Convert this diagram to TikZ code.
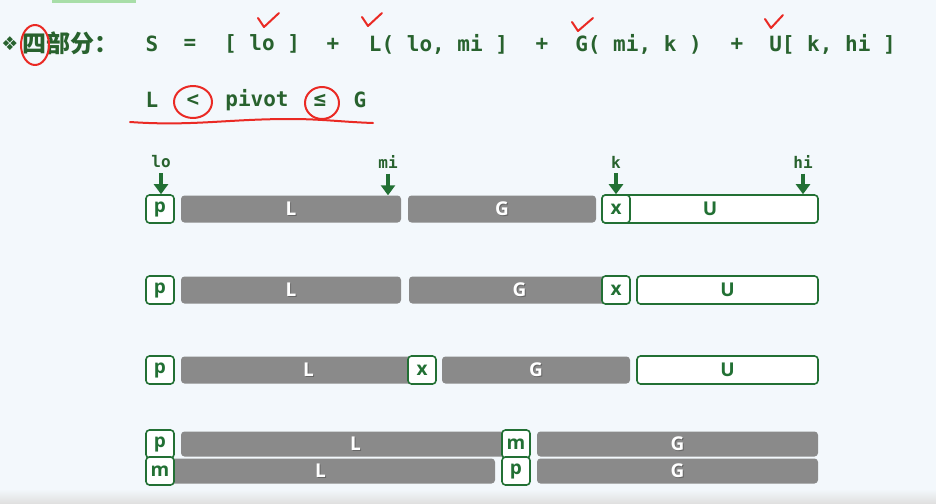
\documentclass[tikz,border=0pt]{standalone}
\usepackage{fontspec}
\setmainfont{Open Sans}
\setmonofont{DejaVu Sans Mono}
\newfontfamily\cjk{Noto Sans CJK SC}
\newfontfamily\symfont{DejaVu Sans}
\usetikzlibrary{arrows.meta}

\definecolor{bgblue}{RGB}{243,248,252}
\definecolor{txtgreen}{RGB}{40,98,46}
\definecolor{boxgreen}{RGB}{34,112,52}
\definecolor{bargray}{RGB}{138,138,138}
\definecolor{markred}{RGB}{234,42,36}
\definecolor{topgreen}{RGB}{168,222,168}

\newcommand{\shtext}[1]{\makebox[0pt][l]{\kern1pt\raisebox{-1pt}{\textcolor{black!60}{#1}}}#1}

\tikzset{
  elem/.style={rectangle, rounded corners=3.5pt, draw=boxgreen, line width=1.6pt, fill=white, text=boxgreen,
    font=\fontsize{19}{22}\selectfont\bfseries, inner sep=0pt, minimum height=28pt},
  pivbox/.style={elem, minimum width=28pt},
  gbar/.style={rectangle, rounded corners=3.5pt, fill=bargray, text=white,
    font=\fontsize{19}{22}\selectfont\bfseries, inner sep=0pt, minimum height=27pt},
  eq/.style={text=txtgreen, font=\ttfamily\bfseries\fontsize{21}{25}\selectfont, inner sep=0pt},
  ptrlbl/.style={text=txtgreen, font=\ttfamily\bfseries\fontsize{16}{18}\selectfont, inner sep=1pt},
  ptr/.style={boxgreen, line width=3.4pt, -{Triangle[width=14pt,length=10pt]}, shorten <=4pt},
  redmark/.style={markred, line width=2pt, line cap=round, line join=round}
}

\begin{document}
\begin{tikzpicture}[x=1pt, y=-1pt]
  \fill[bgblue] (0,0) rectangle (936,503);
  \useasboundingbox (0,0) rectangle (936,503);
  \fill[topgreen] (52,0) rectangle (136,3);
  \shade[top color=bgblue, bottom color=black!12] (0,489) rectangle (936,503);

  % formula line
  \node [text=txtgreen, font=\symfont\bfseries\fontsize{19}{20}\selectfont, inner sep=0pt] (bullet) at (10,44) {❖};
  \node [anchor=west, text=txtgreen, font=\cjk\bfseries\fontsize{24}{26}\selectfont, inner sep=0pt] (title) at (22,43) {四部分：};
  \node [eq] (eqS) at (152,44) {S};
  \node [eq] (eqeq) at (190,44) {=};
  \node [eq] (eqlo) at (262,44) {[ lo ]};
  \node [eq] (plus1) at (333,44) {+};
  \node [eq] (eqL) at (438.5,44) {L( lo, mi ]};
  \node [eq] (plus2) at (542,44) {+};
  \node [eq] (eqG) at (638.5,44) {G( mi, k )};
  \node [eq] (plus3) at (737,44) {+};
  \node [eq] (eqU) at (832.5,44) {U[ k, hi ]};

  \node [eq] (pvL) at (152,100) {L};
  \node [eq] (pvlt) at (193,100) {<};
  \node [eq] (pvtxt) at (257,100) {pivot};
  \node [eq] (pvle) at (320,100) {≤};
  \node [eq] (pvG) at (360,100) {G};

  % red pen marks
  \draw [redmark] (35,45) ellipse [x radius=14, y radius=20];
  \draw [redmark] (193,102) ellipse [x radius=19, y radius=16];
  \draw [redmark] (322,103) ellipse [x radius=17, y radius=16];
  \draw [redmark] (130,122) to[out=-4, in=180] (290,119) to[out=0, in=178] (373,123);
  \draw [redmark] (258,18) -- (264,27) -- (279,13);
  \draw [redmark] (362,17) -- (368,26) -- (382,13);
  \draw [redmark] (572,22) -- (578,31) -- (593,18);
  \draw [redmark] (765,19) -- (771,28) -- (783,15);

  % row 1
  \node [ptrlbl] (lo) at (161,162) {lo};
  \node [ptrlbl] (mi) at (388,162) {mi};
  \node [ptrlbl] (k) at (616,162) {k};
  \node [ptrlbl] (hi) at (803,162) {hi};

  \node [gbar, minimum width=220pt] (L1) at (291,209) {\shtext{L}};
  \node [gbar, minimum width=188pt] (G1) at (502,209) {\shtext{G}};
  \node [elem, minimum width=216pt] (U1) at (710,209) {U};
  \node [pivbox] (p1) at (160,209) {p};
  \node [pivbox] (x1) at (616,209) {x};

  \draw [ptr] (lo.south) -- (lo |- p1.north);
  \draw [ptr] (mi.south) -- (mi |- L1.north);
  \draw [ptr] (k.south) -- (k |- x1.north);
  \draw [ptr] (hi.south) -- (hi |- U1.north);

  % row 2
  \node [gbar, minimum width=220pt] (L2) at (291,290) {\shtext{L}};
  \node [gbar, minimum width=221pt] (G2) at (519.5,290) {\shtext{G}};
  \node [elem, minimum width=181pt] (U2) at (727.5,290) {U};
  \node [pivbox] (p2) at (160,290) {p};
  \node [pivbox] (x2) at (616,290) {x};

  % row 3
  \node [gbar, minimum width=255pt] (L3) at (308.5,370) {\shtext{L}};
  \node [gbar, minimum width=188pt] (G3) at (536,370) {\shtext{G}};
  \node [elem, minimum width=181pt] (U3) at (727.5,370) {U};
  \node [pivbox] (p3) at (160,370) {p};
  \node [pivbox] (x3) at (422,370) {x};

  % rows 4 and 5
  \begin{scope}[every node/.append style={minimum height=26pt}]
    \node [gbar, minimum width=349pt, minimum height=25pt] (L4) at (355.5,444) {\shtext{L}};
    \node [gbar, minimum width=281pt, minimum height=25pt] (G4) at (677.5,444) {\shtext{G}};
    \node [pivbox] (p4) at (160,444) {p};
    \node [pivbox] (m4) at (516,444) {m};

    \node [gbar, minimum width=349pt, minimum height=25pt] (L5) at (320.5,471) {\shtext{L}};
    \node [gbar, minimum width=281pt, minimum height=25pt] (G5) at (677.5,471) {\shtext{G}};
    \node [pivbox] (m5) at (160,471) {m};
    \node [pivbox] (p5) at (516,471) {p};
  \end{scope}
\end{tikzpicture}
\end{document}
